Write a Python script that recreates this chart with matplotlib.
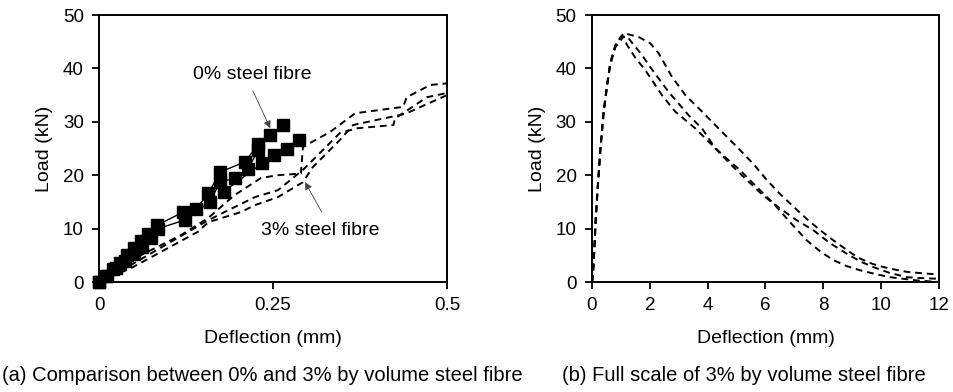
import matplotlib.pyplot as plt

plt.rcParams['font.family'] = ['Liberation Sans', 'DejaVu Sans']

# 0% steel fibre specimens (deflection mm, load kN)
p0_x1 = [0, 0.01, 0.02, 0.03, 0.04, 0.05, 0.06, 0.07, 0.083, 0.121, 0.140, 0.157, 0.174, 0.210, 0.229, 0.246, 0.264]
p0_y1 = [0, 1.2, 2.4, 3.6, 5.0, 6.3, 7.6, 8.9, 10.6, 13.1, 13.75, 16.6, 20.6, 22.5, 25.9, 27.5, 29.4]
p0_x2 = [0, 0.012, 0.025, 0.037, 0.05, 0.062, 0.075, 0.085, 0.123, 0.159, 0.174, 0.195, 0.214, 0.229]
p0_y2 = [0, 1.2, 2.6, 3.9, 5.3, 6.6, 8.2, 10.0, 11.6, 15.0, 18.75, 19.4, 21.25, 24.7]
p0_x3 = [0.179, 0.234, 0.251, 0.270, 0.287]
p0_y3 = [16.9, 22.2, 23.75, 25.0, 26.6]

# 3% steel fibre, initial part (left panel)
s3_xa = [0, 0.046, 0.118, 0.157, 0.195, 0.233, 0.257, 0.290, 0.293, 0.332, 0.368, 0.437, 0.442, 0.476, 0.5]
s3_ya = [0, 4.1, 8.8, 12.0, 16.3, 19.5, 20.0, 20.3, 25.3, 28.1, 31.6, 32.8, 34.6, 36.9, 37.2]
s3_xb = [0, 0.046, 0.152, 0.171, 0.224, 0.257, 0.293, 0.346, 0.371, 0.423, 0.425, 0.471, 0.5]
s3_yb = [0, 3.2, 11.2, 12.5, 15.9, 17.2, 21.0, 27.9, 28.8, 29.4, 30.6, 34.6, 35.4]
s3_xc = [0, 0.046, 0.142, 0.157, 0.204, 0.224, 0.257, 0.293, 0.307, 0.346, 0.365, 0.44, 0.5]
s3_yc = [0, 2.6, 9.4, 11.2, 13.1, 14.4, 15.9, 18.7, 21.5, 26.6, 29.4, 31.5, 35.0]

# 3% steel fibre, full curves (right panel)
f_x1 = [0, 0.03, 0.08, 0.13, 0.2, 0.29, 0.4, 0.52, 0.63, 0.81, 1.1, 1.61, 2.02, 2.31, 2.77, 3.23, 3.81,
        4.38, 5.07, 5.6, 6.05, 6.5, 6.97, 7.43, 7.89, 8.3, 8.58, 9.0, 9.27, 9.7, 10.08, 10.5, 10.89, 11.5, 12]
f_y1 = [0, 1.0, 6.0, 12.0, 18.0, 25.0, 31.9, 36.9, 41.0, 44.4, 46.6, 45.9, 44.7, 42.8, 38.4, 35.0, 31.9,
        28.75, 25.0, 22.0, 19.1, 16.5, 14.1, 11.8, 9.7, 8.0, 6.9, 5.3, 4.4, 3.4, 2.8, 2.3, 1.9, 1.6, 1.4]
f_x2 = [0, 0.03, 0.08, 0.13, 0.2, 0.29, 0.4, 0.52, 0.63, 0.81, 1.0, 1.27, 1.73, 2.13, 2.65, 3.34, 3.81,
        4.27, 4.8, 5.36, 5.9, 6.51, 7.1, 7.66, 8.2, 8.81, 9.3, 9.73, 10.3, 10.89, 11.5, 12]
f_y2 = [0, 0.9, 5.8, 11.8, 17.8, 24.7, 31.6, 36.7, 40.8, 44.2, 46.0, 45.6, 42.5, 39.4, 35.6, 31.25, 28.75,
        25.0, 22.0, 19.1, 16.3, 13.75, 11.5, 9.7, 7.4, 5.3, 3.8, 2.8, 1.7, 0.9, 0.7, 0.6]
f_x3 = [0, 0.03, 0.08, 0.13, 0.2, 0.29, 0.4, 0.52, 0.63, 0.81, 1.1, 1.2, 1.5, 1.84, 2.42, 2.88, 3.58,
        4.04, 4.6, 5.13, 5.7, 6.28, 6.85, 7.43, 7.9, 8.35, 8.8, 9.27, 9.8, 10.31, 11.23, 12]
f_y3 = [0, 0.8, 5.6, 11.5, 17.5, 24.5, 31.3, 36.5, 40.6, 44.0, 46.0, 44.5, 42.0, 39.7, 35.0, 31.9, 28.75,
        26.25, 23.4, 20.9, 17.8, 14.7, 11.2, 7.8, 5.7, 4.1, 3.0, 2.2, 1.5, 0.9, 0.3, 0]

fig = plt.figure(figsize=(9.54, 3.92), dpi=100)
ax1 = fig.add_axes([0.1038, 0.2806, 0.3648, 0.6811])
ax2 = fig.add_axes([0.6205, 0.2806, 0.3637, 0.6811])

dash = dict(color='black', lw=1.4, linestyle=(0, (3.5, 2.5)))
for x, y in [(s3_xa, s3_ya), (s3_xb, s3_yb), (s3_xc, s3_yc)]:
    ax1.plot(x, y, **dash)
for x, y in [(p0_x1, p0_y1), (p0_x2, p0_y2), (p0_x3, p0_y3)]:
    ax1.plot(x, y, color='black', lw=1, marker='s', markersize=8.5, clip_on=False)

arrow = dict(arrowstyle='-|>', color='#444444', lw=0.6, shrinkA=0, shrinkB=0, mutation_scale=11)
ax1.text(0.22, 38.8, '0% steel fibre', ha='center', va='center', fontsize=14)
ax1.annotate('', xy=(0.246, 28.8), xytext=(0.221, 35.8), arrowprops=arrow)
ax1.text(0.318, 9.7, '3% steel fibre', ha='center', va='center', fontsize=14)
ax1.annotate('', xy=(0.296, 18.7), xytext=(0.320, 13.1), arrowprops=arrow)

ax1.set_xlim(0, 0.5)
ax1.set_xticks([0, 0.25, 0.5])
ax1.set_xticklabels(['0', '0.25', '0.5'])

for x, y in [(f_x1, f_y1), (f_x2, f_y2), (f_x3, f_y3)]:
    ax2.plot(x, y, **dash)
ax2.set_xlim(0, 12)
ax2.set_xticks(range(0, 13, 2))

for ax in (ax1, ax2):
    ax.set_ylim(0, 50)
    ax.set_yticks(range(0, 51, 10))
    ax.set_xlabel('Deflection (mm)', fontsize=14, va='center')
    ax.set_ylabel('Load (kN)', fontsize=14, va='center')
    ax.xaxis.set_label_coords(0.5, -0.213)
    ax.yaxis.set_label_coords(-0.157, 0.5)
    ax.tick_params(labelsize=13.5, width=1.3, length=5, pad=6, direction='out', color='black')
    for s in ax.spines.values():
        s.set_linewidth(1.4)
        s.set_color('black')

fig.text(0.2746, 0.041, '(a) Comparison between 0% and 3% by volume steel fibre',
         ha='center', va='center', fontsize=14.5)
fig.text(0.7799, 0.041, '(b) Full scale of 3% by volume steel fibre',
         ha='center', va='center', fontsize=14.5)

fig.savefig('out.png', dpi=100)
